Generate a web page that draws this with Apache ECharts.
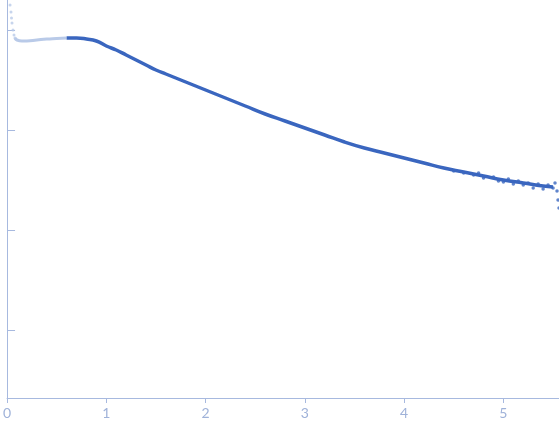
<!DOCTYPE html>
<html><head><meta charset="utf-8">
<script src="https://cdn.jsdelivr.net/npm/echarts@6/dist/echarts.min.js"></script>
<style>html,body{margin:0;padding:0;background:#fff}#c{width:559px;height:437px}</style>
</head><body><div id="c"></div>
<script>
// log10 intensity
const excludedQ = [0.03, 0.04, 0.045, 0.05, 0.06, 0.07, 0.08, 0.1, 0.15, 0.2, 0.3, 0.4, 0.5, 0.6];
const excludedI = [0.25, 0.18, 0.12, 0.07, 0.0, -0.05, -0.08, -0.10, -0.11, -0.11, -0.10, -0.09, -0.085, -0.08];
const usedQ = [0.6, 0.7, 0.8, 0.9, 1.0, 1.1, 1.2, 1.3, 1.4, 1.5, 1.6, 1.7, 1.8, 1.9, 2.0, 2.2, 2.4, 2.6, 2.8, 3.0, 3.2, 3.4, 3.6, 3.8, 4.0, 4.2, 4.4, 4.6, 4.8, 5.0, 5.2, 5.4, 5.5];
const usedI = [-0.08, -0.08, -0.09, -0.11, -0.16, -0.20, -0.25, -0.30, -0.35, -0.40, -0.44, -0.48, -0.52, -0.56, -0.60, -0.68, -0.76, -0.84, -0.91, -0.98, -1.05, -1.12, -1.18, -1.23, -1.28, -1.33, -1.38, -1.42, -1.46, -1.50, -1.53, -1.56, -1.57];
const noisyQ = [4.5, 4.6, 4.7, 4.75, 4.8, 4.9, 4.95, 5.0, 5.05, 5.1, 5.15, 5.2, 5.25, 5.3, 5.35, 5.4, 5.45, 5.5, 5.52, 5.54, 5.55, 5.56, 5.57];
const noisyI = [-1.41, -1.43, -1.45, -1.43, -1.48, -1.47, -1.51, -1.52, -1.49, -1.54, -1.51, -1.55, -1.53, -1.58, -1.54, -1.59, -1.55, -1.58, -1.53, -1.61, -1.70, -1.78, -1.50];
const yTicks = [-3, -2, -1, 0];
const xTicks = [0, 1, 2, 3, 4, 5];

const dark = "#3a66bf", light = "#b9cae8", axisCol = "#a7b9df";
const zip = (a, b) => a.map((v, i) => [v, b[i]]);

const chart = echarts.init(document.getElementById("c"));
chart.setOption({
  animation: false,
  grid: { left: 5, right: 0, top: 0, bottom: 39 },
  xAxis: {
    type: "value", min: 0, max: 5.56, interval: 1,
    splitLine: { show: false },
    axisLine: { onZero: false, lineStyle: { color: axisCol } },
    axisTick: { lineStyle: { color: axisCol }, customValues: xTicks },
    axisLabel: { color: "#9fb2d9", fontSize: 14, fontFamily: "Lato", customValues: xTicks, margin: 8 },
  },
  yAxis: {
    type: "value", min: -3.68, max: 0.3,
    splitLine: { show: false },
    axisLine: { show: true, lineStyle: { color: axisCol } },
    axisTick: { show: true, inside: true, length: 8, lineStyle: { color: axisCol }, customValues: yTicks },
    axisLabel: { show: false },
  },
  series: [
    { type: "line", data: zip(excludedQ.slice(6), excludedI.slice(6)), smooth: true, showSymbol: false,
      lineStyle: { color: light, width: 3 } },
    { type: "scatter", data: zip(excludedQ.slice(0, 7), excludedI.slice(0, 7)), symbolSize: 3,
      itemStyle: { color: light } },
    { type: "line", data: zip(usedQ, usedI), smooth: true, showSymbol: false,
      lineStyle: { color: dark, width: 3.5 } },
    { type: "scatter", data: zip(noisyQ, noisyI), symbolSize: 3.5, itemStyle: { color: dark } },
  ],
});
</script></body></html>
